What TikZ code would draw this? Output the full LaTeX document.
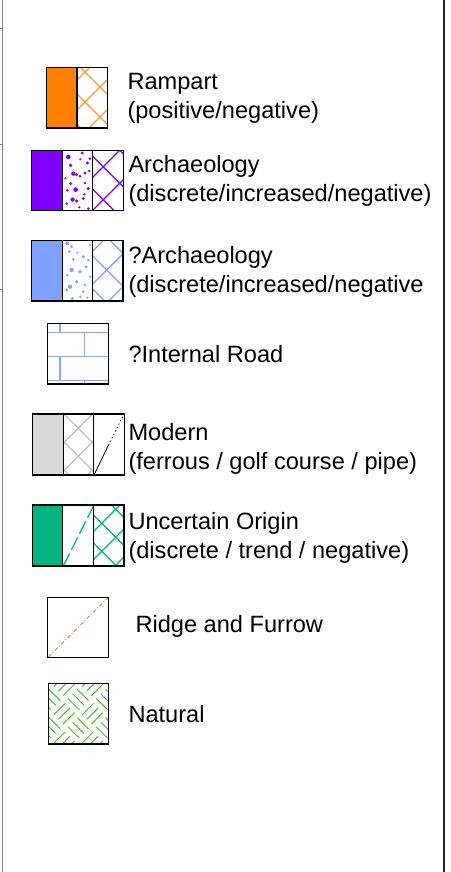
\documentclass[tikz,border=0pt]{standalone}
\usepackage{fontspec}
\setmainfont{Liberation Sans}
\definecolor{rampart}{RGB}{255,128,0}
\definecolor{arch}{RGB}{128,0,255}
\definecolor{qarch}{RGB}{128,160,255}
\definecolor{road}{RGB}{140,165,255}
\definecolor{modgray}{RGB}{217,217,217}
\definecolor{hatchgray}{RGB}{190,190,190}
\definecolor{uncert}{RGB}{0,180,130}
\definecolor{ridge}{RGB}{195,135,85}
\definecolor{natural}{RGB}{75,190,45}
\definecolor{frameL}{RGB}{130,130,130}
\definecolor{frameR}{RGB}{35,35,35}

% crosshatch inside a cell: x0,y0,x1,y1,colour,period,offset of \ lines,offset of / lines
\newcommand\crosshatch[8]{%
  \begin{scope}
    \clip (#1,#2) rectangle (#3,#4);
    \foreach \k in {-4,...,4}{
      \draw[#5, hatchline] ({#1+#7+\k*#6},#2) -- ++(120,120);
      \draw[#5, hatchline] ({#1+#8+\k*#6},#2) -- ++(-120,120);
    }
  \end{scope}}

\begin{document}
\begin{tikzpicture}[x=1pt,y=-1pt,
  lbl/.style={anchor=base west, inner sep=0pt, outer sep=0pt, font=\fontsize{23.6}{28}\selectfont},
  swbox/.style={draw=black, line width=1.1pt},
  hatchline/.style={line width=1.25pt}]
\path[use as bounding box] (0,0) rectangle (450,872);

% frame
\draw[frameL, line width=1.2pt] (2.2,0) -- (2.2,872);
\draw[frameR, line width=2.3pt] (443.8,0) -- (443.8,872);
\foreach \ty in {28,144.5,289.5} \draw[frameL, line width=0.8pt] (0,\ty) -- (2.2,\ty);

% Rampart
\fill[rampart] (46.3,67.3) rectangle (77,128);
\crosshatch{77}{67.3}{107.3}{128}{rampart!80}{30}{3.3}{12.7}
\draw[swbox] (46.3,67.3) rectangle (107.3,128);
\draw[swbox] (77,67.3) -- (77,128);
\node[lbl] (rampartA) at (127.5,90) {Rampart};
\node[lbl] (rampartB) at (127.5,118.5) {(positive/negative)};

% Archaeology
\fill[arch] (31.7,150.3) rectangle (62.3,210.7);
\foreach \dx/\dy/\r in {6/6.7/1.6,20/2.7/1.1,27.7/8.3/1.0,25/12.7/1.2,8.3/15/1.3,11/23.3/1.5,14.3/24.3/1.1,
  22.7/22.7/1.2,27/20.7/0.9,8.3/33.3/1.1,13.3/39.3/1.6,5/40/1.0,22.7/32.7/1.0,26/38.3/1.2,10.3/49.3/1.5,
  14.3/50.7/1.2,4.3/53.3/0.9,21/48.3/1.1,26/58.3/1.0,22/44/0.9,17.7/26/0.9,18/9/0.8,3/28/0.8,17/57/0.9}
  \fill[arch] ({62.3+\dx},{150.3+\dy}) circle ({1.45*\r pt});
\crosshatch{92.7}{150.3}{123.3}{210.7}{arch}{33}{27}{27}
\draw[swbox] (31.7,150.3) rectangle (123.3,210.7);
\draw[swbox] (62.3,150.3) -- (62.3,210.7) (92.7,150.3) -- (92.7,210.7);
\node[lbl] (archA) at (128.5,172.5) {Archaeology};
\node[lbl] (archB) at (128.5,201) {(discrete/increased/negative)};

% ?Archaeology
\fill[qarch] (31.7,240.7) rectangle (62.3,301);
\foreach \dx/\dy/\r in {5/2.7/1.4,9.3/6/1.1,7/11/1.0,27.7/4.3/0.9,21/16/1.2,11/18.7/1.0,26/19.3/1.0,
  9.3/29.3/1.5,17.7/31/1.3,5/34.3/1.0,23.7/26/1.1,14.3/41/1.2,22.7/44.3/1.0,7.7/46/1.5,4.3/49.3/1.1,
  21/51/1.0,18/56/0.9,10/58/1.2,25/57/0.9,15/12/0.8,28/36/0.9}
  \fill[qarch] ({62.3+\dx},{240.7+\dy}) circle ({1.45*\r pt});
\crosshatch{92.7}{240.7}{123}{301}{qarch}{33}{17.7}{10.3}
\draw[swbox] (31.7,240.7) rectangle (123,301);
\draw[swbox] (62.3,240.7) -- (62.3,301) (92.7,240.7) -- (92.7,301);
\node[lbl] (qarchA) at (128.5,263.5) {?Archaeology};
\node[lbl] (qarchB) at (128.5,292) {(discrete/increased/negative};

% ?Internal Road
\begin{scope}[road, line width=1.4pt]
  \draw (47.7,332.7) -- (108.3,332.7) (47.7,356.7) -- (108.3,356.7) (47.7,380.7) -- (108.3,380.7);
  \draw (60,323.3) -- (60,332.7) (60,356.7) -- (60,380.7);
  \draw (84.3,332.7) -- (84.3,356.7) (84.3,380.7) -- (84.3,384);
\end{scope}
\draw[swbox] (47.7,323.3) rectangle (108.3,384);
\node[lbl] (road) at (128.5,362) {?Internal Road};

% Modern
\fill[modgray] (32.3,414) rectangle (63.3,475);
\crosshatch{63.3}{414}{93.3}{475}{hatchgray}{28}{0.7}{1.3}
\draw[black, line width=0.8pt] (94.3,474.5) -- (108.5,445);
\draw[black, line width=0.8pt, dash pattern=on 1.2pt off 2.6pt] (108.5,445) -- (123.5,415);
\draw[swbox] (32.3,414) rectangle (124.3,475);
\draw[swbox] (63.3,414) -- (63.3,475) (93.3,414) -- (93.3,475);
\node[lbl] (modernA) at (128.5,440) {Modern};
\node[lbl] (modernB) at (128.5,469) {(ferrous / golf course / pipe)};

% Uncertain Origin
\fill[uncert] (32.3,505) rectangle (62.7,566);
\draw[uncert, line width=1.3pt, dash pattern=on 14pt off 4pt] (63.3,566) -- (94,505);
\crosshatch{93.3}{505}{124}{566}{uncert}{28}{18.1}{26.7}
\draw[swbox] (32.3,505) rectangle (124,566);
\draw[swbox] (62.7,505) -- (62.7,566) (93.3,505) -- (93.3,566);
\node[lbl] (uncertA) at (128.5,529) {Uncertain Origin};
\node[lbl] (uncertB) at (128.5,558) {(discrete / trend / negative)};

% Ridge and Furrow
\draw[ridge, line width=1pt, dash pattern=on 4pt off 2pt on 1pt off 2pt] (48.5,657) -- (107.5,598);
\draw[swbox] (47.7,597.3) rectangle (108.3,657.7);
\node[lbl] (ridge) at (135.5,632) {Ridge and Furrow};

% Natural: basket weave of diagonal strokes
\begin{scope}
  \clip (48.3,683.3) rectangle (108.3,744);
  \begin{scope}[shift={(78.3,713.7)}, rotate=45]
    \foreach \i in {-3,...,2}{
      \foreach \j in {-3,...,2}{
        \pgfmathtruncatemacro\wpar{mod(\i+\j+100,2)}
        \ifnum\wpar=0
          \foreach \t in {3.5,10,16.5}
            \draw[natural, line width=1pt] ({\i*20+2},{\j*20+\t}) -- ({\i*20+18},{\j*20+\t});
        \else
          \foreach \t in {3.5,10,16.5}
            \draw[natural, line width=1pt] ({\i*20+\t},{\j*20+2}) -- ({\i*20+\t},{\j*20+18});
        \fi
      }
    }
  \end{scope}
\end{scope}
\draw[swbox] (48.3,683.3) rectangle (108.3,744);
\node[lbl] (natural) at (128.5,722) {Natural};
\end{tikzpicture}
\end{document}
